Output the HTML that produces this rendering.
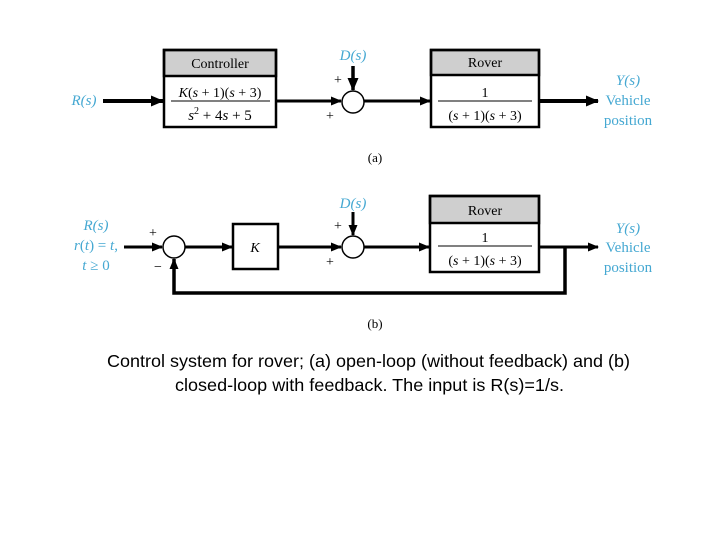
<!DOCTYPE html>
<html><head><meta charset="utf-8"><style>
html,body{margin:0;padding:0;background:#fff;width:720px;height:540px;overflow:hidden}
svg text{font-family:"Liberation Serif",serif}
.b{fill:#45a8d2}
.cap{font-family:"Liberation Sans",sans-serif;font-size:17.5px;fill:#000}
</style></head><body>
<svg width="720" height="540" viewBox="0 0 720 540" xmlns="http://www.w3.org/2000/svg">
<defs><marker id="a" markerWidth="11" markerHeight="9" refX="10" refY="4.5" orient="auto" markerUnits="userSpaceOnUse" viewBox="0 0 11 9"><path d="M0,0 L11,4.5 L0,9 Z" fill="#000"/></marker>
<marker id="A" markerWidth="13" markerHeight="11" refX="12" refY="5.5" orient="auto" markerUnits="userSpaceOnUse" viewBox="0 0 13 11"><path d="M0,0 L13,5.5 L0,11 Z" fill="#000"/></marker></defs>
<g stroke="#000" fill="none">
<rect x="164" y="50" width="112" height="26" fill="#cfcfcf" stroke-width="2.5"/>
<rect x="164" y="50" width="112" height="77" stroke-width="2.5"/>
<line x1="171" y1="101" x2="270" y2="101" stroke-width="1"/>
<rect x="431" y="50" width="108" height="25" fill="#cfcfcf" stroke-width="2.5"/>
<rect x="431" y="50" width="108" height="77" stroke-width="2.5"/>
<line x1="438" y1="101" x2="532" y2="101" stroke-width="1"/>
<circle cx="353" cy="102" r="11" stroke-width="1.5"/>
<line x1="103" y1="101" x2="163" y2="101" stroke-width="4" marker-end="url(#A)"/>
<line x1="276" y1="101" x2="341" y2="101" stroke-width="3" marker-end="url(#a)"/>
<line x1="364" y1="101" x2="430" y2="101" stroke-width="3" marker-end="url(#a)"/>
<line x1="539" y1="101" x2="598" y2="101" stroke-width="4" marker-end="url(#A)"/>
<line x1="353" y1="66" x2="353" y2="90" stroke-width="3.5" marker-end="url(#A)"/>
<circle cx="174" cy="247" r="11" stroke-width="1.5"/>
<rect x="233" y="224" width="45" height="45" stroke-width="2.5"/>
<circle cx="353" cy="247" r="11" stroke-width="1.5"/>
<rect x="430" y="196" width="109" height="27" fill="#cfcfcf" stroke-width="2.5"/>
<rect x="430" y="196" width="109" height="76" stroke-width="2.5"/>
<line x1="438" y1="246" x2="532" y2="246" stroke-width="1"/>
<line x1="124" y1="247" x2="162" y2="247" stroke-width="3" marker-end="url(#a)"/>
<line x1="185" y1="247" x2="232" y2="247" stroke-width="3" marker-end="url(#a)"/>
<line x1="278" y1="247" x2="341" y2="247" stroke-width="3" marker-end="url(#a)"/>
<line x1="364" y1="247" x2="429" y2="247" stroke-width="3" marker-end="url(#a)"/>
<line x1="539" y1="247" x2="598" y2="247" stroke-width="3" marker-end="url(#a)"/>
<polyline points="565,247 565,293 174,293 174,259" stroke-width="3.5" marker-end="url(#a)"/>
<line x1="353" y1="212" x2="353" y2="235" stroke-width="3" marker-end="url(#a)"/>
</g>
<g font-size="14" text-anchor="middle">
<text x="220" y="68">Controller</text>
<text x="220" y="97"><tspan font-style="italic">K</tspan>(<tspan font-style="italic">s</tspan> + 1)(<tspan font-style="italic">s</tspan> + 3)</text>
<text x="220" y="120" font-size="15"><tspan font-style="italic">s</tspan><tspan font-size="10" dy="-6">2</tspan><tspan dy="6"> + 4</tspan><tspan font-style="italic">s</tspan> + 5</text>
<text x="485" y="67">Rover</text>
<text x="485" y="97">1</text>
<text x="485" y="120">(<tspan font-style="italic">s</tspan> + 1)(<tspan font-style="italic">s</tspan> + 3)</text>
<text x="485" y="215">Rover</text>
<text x="485" y="242">1</text>
<text x="485" y="265">(<tspan font-style="italic">s</tspan> + 1)(<tspan font-style="italic">s</tspan> + 3)</text>
<text x="255" y="252" font-style="italic">K</text>
<text x="338" y="84">+</text><text x="330" y="120">+</text>
<text x="338" y="230">+</text><text x="330" y="266">+</text>
<text x="153" y="237">+</text><text x="158" y="271">−</text>
<text x="375" y="162" font-size="13">(a)</text>
<text x="375" y="328" font-size="13">(b)</text>
<g class="b" font-size="15">
<text x="84" y="105" font-style="italic">R(s)</text>
<text x="353" y="60" font-style="italic">D(s)</text>
<text x="628" y="85" font-style="italic">Y(s)</text>
<text x="628" y="105">Vehicle</text>
<text x="628" y="125">position</text>
<text x="353" y="208" font-style="italic">D(s)</text>
<text x="96" y="230" font-style="italic">R(s)</text>
<text x="96" y="250"><tspan font-style="italic">r</tspan>(<tspan font-style="italic">t</tspan>) = <tspan font-style="italic">t</tspan>,</text>
<text x="96" y="270"><tspan font-style="italic">t</tspan> ≥ 0</text>
<text x="628" y="233" font-style="italic">Y(s)</text>
<text x="628" y="252">Vehicle</text>
<text x="628" y="272">position</text>
</g>
</g>
<text class="cap" x="107" y="367" textLength="523" lengthAdjust="spacingAndGlyphs">Control system for rover; (a) open-loop (without feedback) and (b)</text>
<text class="cap" x="175" y="391" textLength="389" lengthAdjust="spacingAndGlyphs">closed-loop with feedback. The input is R(s)=1/s.</text>
</svg>
</body></html>
